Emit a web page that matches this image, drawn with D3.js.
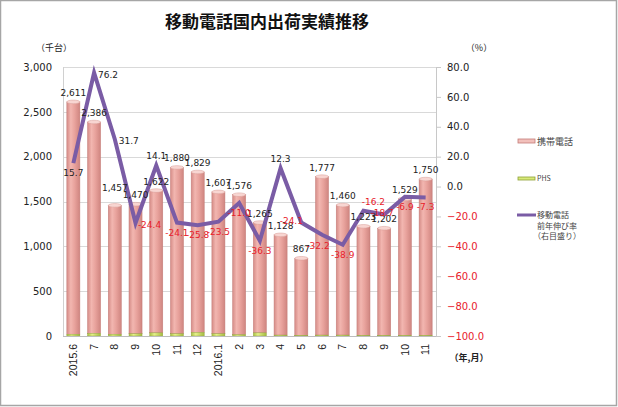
<!DOCTYPE html>
<html><head><meta charset="utf-8">
<script src="https://cdn.jsdelivr.net/npm/d3@7/dist/d3.min.js"></script>
<style>body{margin:0;background:#fff}svg{display:block}</style>
</head><body>
<svg id="c" width="618" height="407"></svg>
<script>
const categories = ["2015.6","7","8","9","10","11","12","2016.1","2","3","4","5","6","7","8","9","10","11"];
const totalValues = [2611,2386,1457,1470,1622,1880,1829,1607,1576,1265,1128,867,1777,1460,1223,1202,1529,1750];
const phsValues = [20,30,20,25,35,25,40,25,15,35,10,8,10,10,8,8,8,8];
const growthRates = [15.7,76.2,31.7,-24.4,14.1,-24.1,-25.8,-23.5,-11.0,-36.3,12.3,-24.1,-32.2,-38.9,-16.2,-18.7,-6.9,-7.3];
const rateLabelPlace = ["below","right","right","right","above","below","below","below","below","below","above","left","belowleft","below","upright","on","below","below"];
const barLabelPlace = ["top","top","high","top","top","top","top","top","top","top","top","top","top","top","top","top","top","top"];
const leftTicks = [0,500,1000,1500,2000,2500,3000];
const rightTicks = [-100,-80,-60,-40,-20,0,20,40,60,80];
const keitaiValues = totalValues.map((t,i)=>t-phsValues[i]);

const svg = d3.select("#c");
const W=618,H=407;
const L=63,R=436,T=67,B=336;
const numFont="DejaVu Sans, Verdana, sans-serif";
const jpFont="'Noto Sans CJK JP', sans-serif";

svg.append("rect").attr("x",0.5).attr("y",0.5).attr("width",W-2).attr("height",H-2)
  .attr("fill","#fff").attr("stroke","#a6a6a6").attr("stroke-width",1.5);

const x = d3.scaleBand().domain(d3.range(categories.length)).range([L,R]).paddingInner(0.37).paddingOuter(0.185);
const yL = d3.scaleLinear().domain([0,3000]).range([B,T]);
const yR = d3.scaleLinear().domain([-100,80]).range([B,T]);
const cx = i => x(i)+x.bandwidth()/2;

const defs = svg.append("defs");
const g1 = defs.append("linearGradient").attr("id","gk").attr("x1","0").attr("x2","1").attr("y1","0").attr("y2","0");
[["0%","#d58c87"],["30%","#f2b6b0"],["60%","#e8a29c"],["100%","#cf8580"]].forEach(s=>g1.append("stop").attr("offset",s[0]).attr("stop-color",s[1]));
const g2 = defs.append("linearGradient").attr("id","gp").attr("x1","0").attr("x2","1").attr("y1","0").attr("y2","0");
[["0%","#a9bf45"],["35%","#e4f08a"],["100%","#a4ba40"]].forEach(s=>g2.append("stop").attr("offset",s[0]).attr("stop-color",s[1]));

// gridlines
svg.append("g").selectAll("line").data(leftTicks.filter(d=>d>0)).join("line")
  .attr("x1",L).attr("x2",R).attr("y1",d=>Math.round(yL(d))+0.5).attr("y2",d=>Math.round(yL(d))+0.5)
  .attr("stroke","#d9d9d9").attr("stroke-width",1);
svg.append("line").attr("x1",L+0.5).attr("x2",L+0.5).attr("y1",T).attr("y2",B).attr("stroke","#d0d0d0");

// left axis
const axL = d3.axisLeft(yL).tickValues(leftTicks).tickSize(0).tickPadding(11).tickFormat(d3.format(","));
const gL = svg.append("g").attr("transform",`translate(${L},0)`).call(axL);
gL.select(".domain").remove();
gL.selectAll("text").attr("font-family",numFont).attr("font-size",10).attr("fill","#222");

// right axis
const axR = d3.axisRight(yR).tickValues(rightTicks).tickSize(5).tickPadding(6).tickFormat(d3.format(".1f"));
const gR = svg.append("g").attr("transform",`translate(${R},0)`).call(axR);
gR.select(".domain").attr("stroke","#c8c8c8");
gR.selectAll("line").attr("stroke","#c8c8c8");
gR.selectAll("text").attr("font-family",numFont).attr("font-size",10).attr("fill",d=>d<0?"#e8202a":"#222");

// bars
const bars = svg.append("g");
bars.selectAll("rect.k").data(keitaiValues).join("rect").attr("class","k")
  .attr("x",(d,i)=>x(i)).attr("width",x.bandwidth())
  .attr("y",(d,i)=>yL(d+phsValues[i])).attr("height",(d,i)=>yL(phsValues[i])-yL(d+phsValues[i]))
  .attr("fill","url(#gk)").attr("stroke","#c47c78").attr("stroke-width",0.5);
bars.selectAll("ellipse.k").data(totalValues).join("ellipse").attr("class","k")
  .attr("cx",(d,i)=>cx(i)).attr("cy",d=>yL(d)).attr("rx",x.bandwidth()/2).attr("ry",1.8)
  .attr("fill","#f8d6d2").attr("stroke","#d79a95").attr("stroke-width",0.5);
bars.selectAll("rect.p").data(phsValues).join("rect").attr("class","p")
  .attr("x",(d,i)=>x(i)).attr("width",x.bandwidth())
  .attr("y",d=>yL(d)).attr("height",d=>yL(0)-yL(d))
  .attr("fill","url(#gp)").attr("stroke","#8ea038").attr("stroke-width",0.4);

// bottom axis line
svg.append("line").attr("x1",L).attr("x2",R).attr("y1",B+0.5).attr("y2",B+0.5).attr("stroke","#bdbdbd");

// x labels
const axB = d3.axisBottom(x).tickSize(0).tickFormat(i=>categories[i]);
const gB = svg.append("g").attr("transform",`translate(0,${B})`).call(axB);
gB.select(".domain").remove();
gB.selectAll("text").attr("font-family","'Liberation Sans', Arial, sans-serif").attr("font-size",10.5).attr("fill","#222")
  .attr("text-anchor","end").attr("transform","rotate(-90)").attr("x",-8).attr("y",0).attr("dy","0.35em");

// line
const line = d3.line().x((d,i)=>cx(i)).y(d=>yR(d));
svg.append("path").datum(growthRates).attr("d",line).attr("fill","none")
  .attr("stroke","#7a5ca5").attr("stroke-width",4).attr("stroke-linejoin","miter");

// bar value labels
const bOff = {top:-6, high:-14};
svg.append("g").selectAll("text").data(totalValues).join("text")
  .attr("x",(d,i)=>cx(i)).attr("y",(d,i)=>yL(d)+bOff[barLabelPlace[i]]).attr("text-anchor","middle")
  .attr("font-family",numFont).attr("font-size",9).attr("fill","#222")
  .text(d3.format(","));

// rate labels
const off = {below:[0,13],above:[0,-6],right:[14,5],left:[-10,1],belowleft:[-4,14],upright:[10,-6],on:[-2,1]};
svg.append("g").selectAll("text").data(growthRates).join("text")
  .attr("x",(d,i)=>cx(i)+off[rateLabelPlace[i]][0])
  .attr("y",(d,i)=>yR(d)+off[rateLabelPlace[i]][1])
  .attr("text-anchor","middle")
  .attr("font-family",numFont).attr("font-size",9).attr("fill",d=>d<0?"#e8202a":"#222")
  .text(d=>d.toFixed(1));

// title & units
svg.append("text").attr("x",267).attr("y",28).attr("text-anchor","middle")
  .attr("font-family",jpFont).attr("font-weight",700).attr("font-size",17).attr("fill","#111")
  .text("移動電話国内出荷実績推移");
svg.append("text").attr("x",54).attr("y",51).attr("text-anchor","middle")
  .attr("font-family",jpFont).attr("font-size",9).attr("fill","#222").text("（千台）");
svg.append("text").attr("x",479).attr("y",51).attr("text-anchor","middle")
  .attr("font-family",jpFont).attr("font-size",9).attr("fill","#222").text("（%）");
svg.append("text").attr("x",469).attr("y",361).attr("text-anchor","middle")
  .attr("font-family",jpFont).attr("font-size",9).attr("font-weight",700).attr("fill","#222").text("（年,月）");

// legend
const lg = svg.append("g");
lg.append("rect").attr("x",518).attr("y",139).attr("width",17).attr("height",4)
  .attr("fill","#f2c0bb").attr("stroke","#c47c78").attr("stroke-width",0.8);
lg.append("text").attr("x",537).attr("y",145).attr("font-family",jpFont).attr("font-size",9).attr("fill","#444").text("携帯電話");
lg.append("rect").attr("x",518).attr("y",177).attr("width",17).attr("height",3)
  .attr("fill","#d8ea78").attr("stroke","#8ea038").attr("stroke-width",0.8);
lg.append("text").attr("x",537).attr("y",181).attr("font-family",jpFont).attr("font-size",7).attr("fill","#444").text("PHS");
lg.append("line").attr("x1",517).attr("x2",536).attr("y1",215).attr("y2",215).attr("stroke","#7a5ca5").attr("stroke-width",3);
["移動電話","前年伸び率","（右目盛り）"].forEach((t,k)=>{
  lg.append("text").attr("x",k==2?533:537).attr("y",218+k*10.5).attr("font-family",jpFont).attr("font-size",8).attr("fill","#444").text(t);
});
</script>
</body></html>
